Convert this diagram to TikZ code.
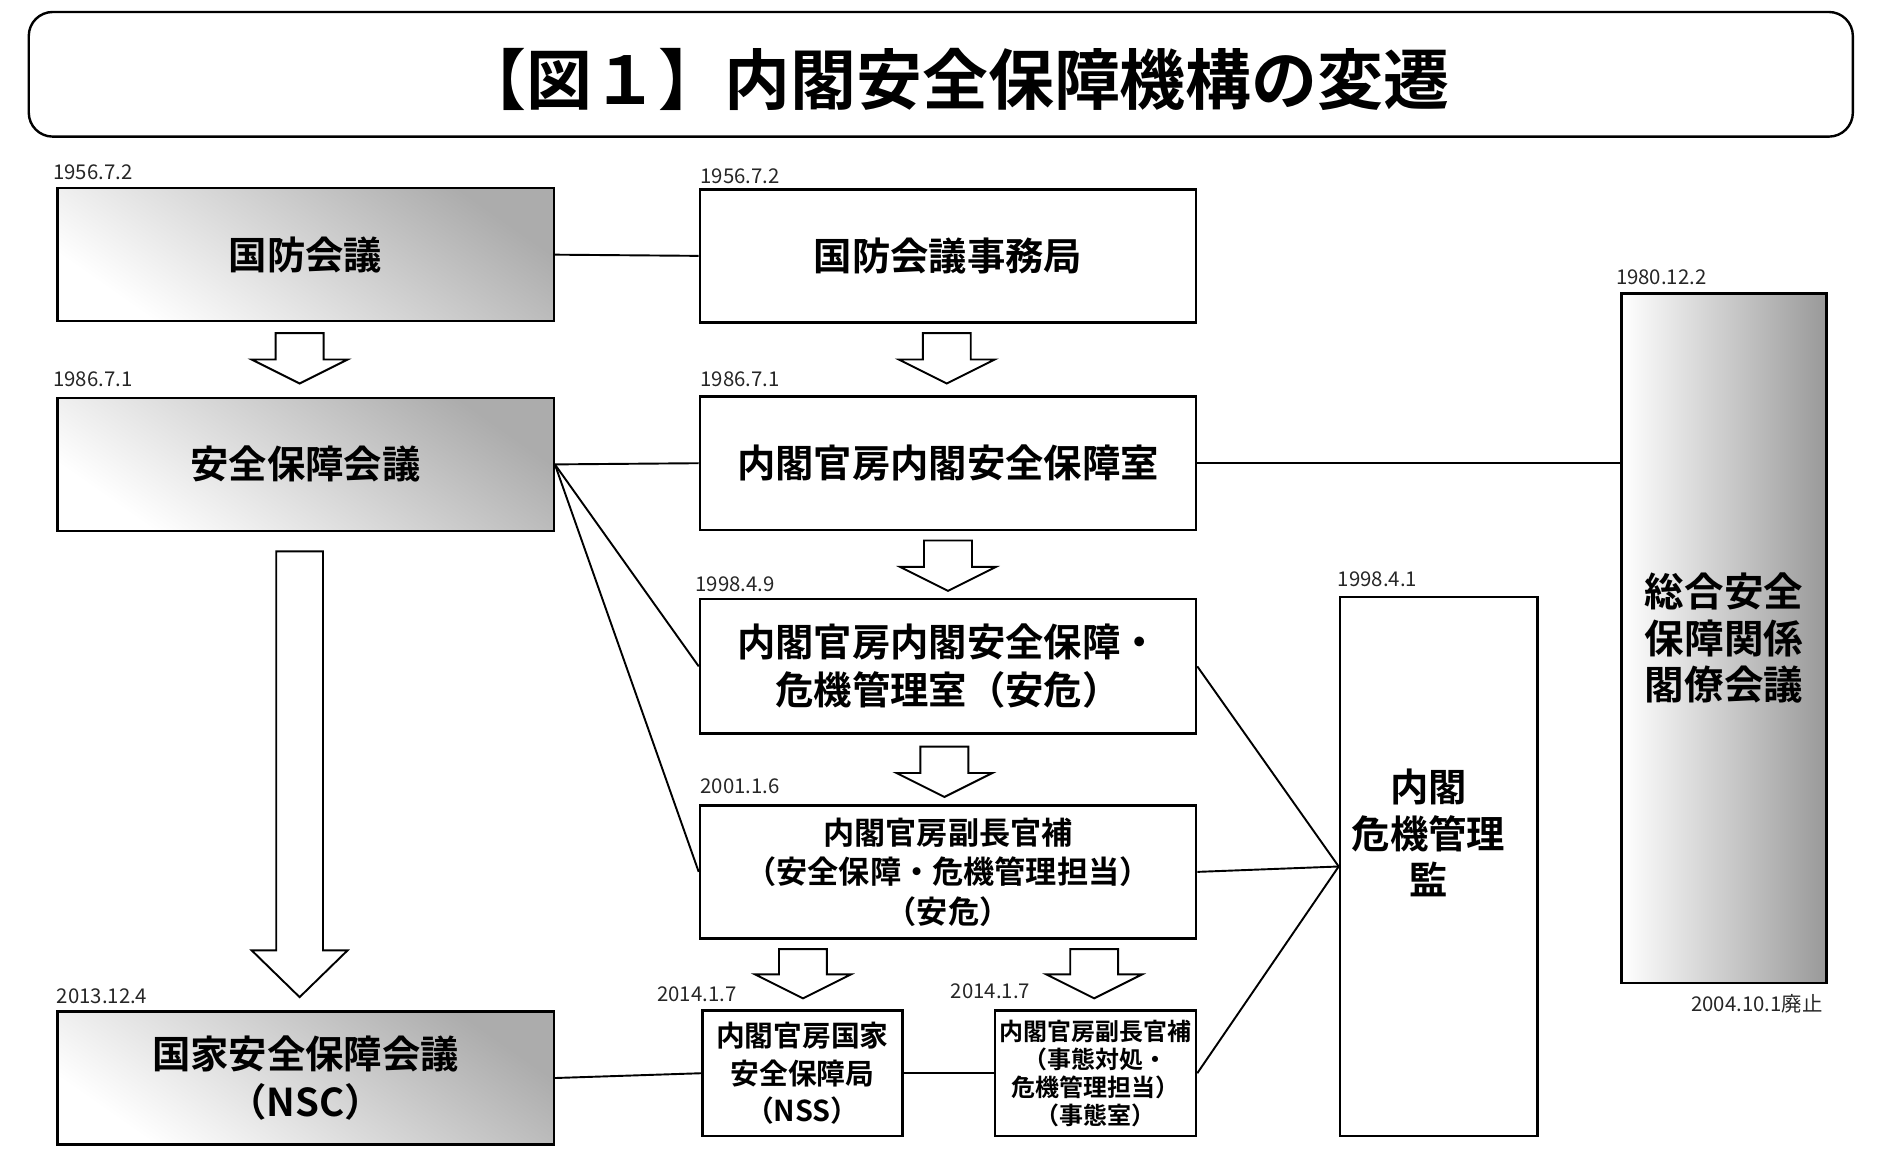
\documentclass[tikz,border=0pt]{standalone}
\usepackage{fontspec}
\setmainfont{Noto Sans CJK JP}
\newfontfamily\jpb{Noto Sans CJK JP Bold}
\begin{document}
\begin{tikzpicture}[x=0.5pt,y=-0.5pt,
  box/.style={draw,line width=1pt,fill=white,align=center,font=\jpb\fontsize{16}{20}\selectfont,inner sep=0pt},
  gbox/.style={box,shading=axis,top color=gray!65,bottom color=white,shading angle=-35},
  date/.style={anchor=south west,inner sep=0pt,font=\fontsize{8.5}{9}\selectfont,text=black!85},
  link/.style={line width=0.8pt},
  harrow/.style={draw,line width=0.8pt,fill=white,line join=miter}]
\useasboundingbox (0,0) rectangle (1567,972);
\node[draw,line width=1pt,rounded corners=10pt,minimum width=761pt,minimum height=52pt] (title) at (785,62) {};
\node[font=\jpb\fontsize{27.5}{30}\selectfont] (tt) at (797,66) {【図１】内閣安全保障機構の変遷};
% left column
\node[gbox,minimum width=207pt,minimum height=55.5pt] (A) at (255,212.5) {国防会議};
\node[gbox,minimum width=207pt,minimum height=55.5pt] (B) at (255,387.5) {安全保障会議};
\node[gbox,minimum width=207pt,minimum height=55.5pt] (C) at (255,899.5) {国家安全保障会議\\（NSC）};
\node[date] (dA) at (44,150) {1956.7.2};
\node[date] (dB) at (44,323) {1986.7.1};
\node[date] (dC) at (47,838) {2013.12.4};
% middle
\node[box,minimum width=207pt,minimum height=55.5pt] (D) at (791,213.5) {国防会議事務局};
\node[box,minimum width=207pt,minimum height=55.5pt] (E) at (791,386.5) {内閣官房内閣安全保障室};
\node[box,minimum width=207pt,minimum height=56pt] (F) at (791,556) {内閣官房内閣安全保障・\\危機管理室（安危）};
\node[box,minimum width=207pt,minimum height=55.5pt,font=\jpb\fontsize{13}{16.5}\selectfont] (G) at (791,727.5) {内閣官房副長官補\\（安全保障・危機管理担当）\\（安危）};
\node[box,minimum width=83.5pt,minimum height=52.5pt,font=\jpb\fontsize{12}{15.5}\selectfont] (H) at (669.5,895.5) {内閣官房国家\\安全保障局\\（NSS）};
\node[box,minimum width=84pt,minimum height=52.5pt,font=\jpb\fontsize{10}{11.7}\selectfont] (I) at (914,895.5) {内閣官房副長官補\\（事態対処・\\危機管理担当）\\（事態室）};
\node[date] (dD) at (584,154) {1956.7.2};
\node[date] (dE) at (584,323) {1986.7.1};
\node[date] (dF) at (580,494) {1998.4.9};
\node[date] (dG) at (584,663) {2001.1.6};
\node[date] (dH) at (548,836) {2014.1.7};
\node[date] (dI) at (793,834) {2014.1.7};
% right
\node[box,minimum width=82.5pt,minimum height=225pt] (J) at (1200.5,723) {};
\node[align=center,font=\jpb\fontsize{16}{19.5}\selectfont] (Jt) at (1192,695) {内閣\\危機管理\\監};
\node[box,minimum width=85.5pt,minimum height=287.5pt,shading=axis,left color=white,right color=gray!80,font=\jpb\fontsize{16.5}{19.5}\selectfont] (K) at (1438.5,532.5) {総合安全\\保障関係\\閣僚会議};
\node[date] (dJ) at (1116,490) {1998.4.1};
\node[date] (dK) at (1348,238) {1980.12.2};
\node[date,anchor=south east] (dK2) at (1521,846) {2004.10.1廃止};
% links
\draw[link] (A.east) -- (D.west);
\draw[link] (B.east) -- (E.west);
\draw[link] (B.east) -- (F.west);
\draw[link] (B.east) -- (G.west);
\draw[link] (E.east) -- (E.east -| K.west);
\draw[link] (F.east) -- (J.west);
\draw[link] (G.east) -- (J.west);
\draw[link] (I.east) -- (J.west);
\draw[link] (C.east) -- (H.west);
\draw[link] (H.east) -- (I.west);
% hollow arrows
\newcommand{\hollowarrow}[6]{\draw[harrow] (#1-#4,#2) -- (#1+#4,#2) -- (#1+#4,#3-#6) -- (#1+#5,#3-#6) -- (#1,#3) -- (#1-#5,#3-#6) -- (#1-#4,#3-#6) -- cycle;}
\hollowarrow{250}{278}{320}{20}{40}{20}
\hollowarrow{250}{460}{832}{19.5}{40}{39}
\hollowarrow{790}{278}{320}{20}{40}{20}
\hollowarrow{791}{451}{493}{20}{40}{20}
\hollowarrow{788}{623}{665}{20}{40}{20}
\hollowarrow{670}{792}{833}{20}{40}{20}
\hollowarrow{913}{792}{833}{20}{40}{20}
\end{tikzpicture}
\end{document}
